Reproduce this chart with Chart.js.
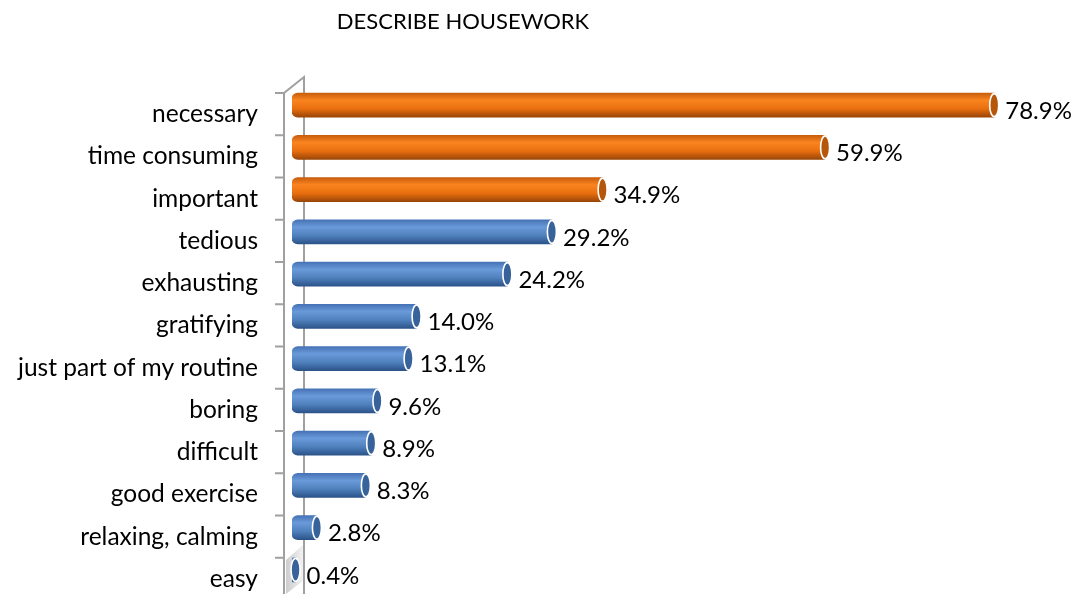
<!DOCTYPE html>
<html>
<head>
<meta charset="utf-8">
<script src="https://cdn.jsdelivr.net/npm/chart.js@4.4.1/dist/chart.umd.min.js"></script>
<style>
  html, body { margin: 0; padding: 0; background: #fff; }
  #wrap { width: 1088px; height: 594px; position: relative; }
</style>
</head>
<body>
<div id="wrap"><canvas id="myChart"></canvas></div>
<script>
// chart data
const chartTitle = 'DESCRIBE HOUSEWORK';
const categories = [
    'necessary',
    'time consuming',
    'important',
    'tedious',
    'exhausting',
    'gratifying',
    'just part of my routine',
    'boring',
    'difficult',
    'good exercise',
    'relaxing, calming',
    'easy'
];
const percentages = [78.9, 59.9, 34.9, 29.2, 24.2, 14.0, 13.1, 9.6, 8.9, 8.3, 2.8, 0.4];
// the categories drawn in orange
const topAnswers = ['necessary', 'time consuming', 'important'];

const FONT = 'Lato, "Open Sans", sans-serif';
const BAR_H = 24;
const DEPTH = 9;     // 3d shift of the front plane

const palette = {
    orange: { stops: ['#c85e0c', '#fa8420', '#e96f0e', '#9a4608'], cap: '#b5560b' },
    blue: { stops: ['#4673b6', '#6a9ad9', '#4f81bd', '#2c538a'], cap: '#38629a' }
};

function colorsFor(i) {
    return topAnswers.includes(categories[i]) ? palette.orange : palette.blue;
}

//cylinder like fill, the gradient follows the bar row
function barFill(context) {
    const chart = context.chart;
    const c = colorsFor(context.dataIndex);
    if (!chart.chartArea || !chart.scales.y) return c.stops[2];
    const y = chart.scales.y.getPixelForValue(context.dataIndex);
    const g = chart.ctx.createLinearGradient(0, y - BAR_H / 2, 0, y + BAR_H / 2);
    g.addColorStop(0, c.stops[0]);
    g.addColorStop(0.3, c.stops[1]);
    g.addColorStop(0.65, c.stops[2]);
    g.addColorStop(1, c.stops[3]);
    return g;
}

//the grey 3d wall on the left with its tick marks
const wallPlugin = {
    id: 'wall',
    beforeDatasetsDraw(chart) {
        const ctx = chart.ctx;
        const y = chart.scales.y;
        const left = chart.chartArea.left;
        const band = y.getPixelForValue(1) - y.getPixelForValue(0);
        const frontX = left - 8;
        const backX = left + 12;
        const frontTop = y.getPixelForValue(0) - band / 2 + DEPTH;
        ctx.save();

        //floor shading next to the lowest bar
        const g = ctx.createLinearGradient(frontX, 0, backX, 0);
        g.addColorStop(0, '#c8c8c8');
        g.addColorStop(1, '#f4f4f4');
        ctx.fillStyle = g;
        ctx.beginPath();
        ctx.moveTo(frontX + 2, chart.height - 34);
        ctx.lineTo(backX, chart.height - 50);
        ctx.lineTo(backX, chart.height - 14);
        ctx.lineTo(frontX + 2, chart.height);
        ctx.closePath();
        ctx.fill();

        ctx.strokeStyle = '#a0a0a0';
        ctx.lineWidth = 2;
        ctx.beginPath();
        ctx.moveTo(backX, chart.height);
        ctx.lineTo(backX, frontTop - 16);
        ctx.lineTo(frontX, frontTop);
        ctx.lineTo(frontX, chart.height);
        for (let i = 0; i <= categories.length; i++) {
            const ty = frontTop + i * band;
            ctx.moveTo(frontX - 9, ty);
            ctx.lineTo(frontX, ty);
        }
        ctx.stroke();
        ctx.restore();
    }
};

//end caps of the cylinders, value labels and the title
const capPlugin = {
    id: 'caps',
    afterDatasetsDraw(chart) {
        const ctx = chart.ctx;
        const meta = chart.getDatasetMeta(0);
        ctx.save();
        meta.data.forEach((bar, i) => {
            const c = colorsFor(i);
            ctx.beginPath();
            ctx.ellipse(bar.x, bar.y, 4.5, BAR_H / 2 - 0.5, 0, 0, Math.PI * 2);
            ctx.fillStyle = c.cap;
            ctx.fill();
            ctx.strokeStyle = '#ffffff';
            ctx.lineWidth = 1.6;
            ctx.stroke();

            ctx.fillStyle = '#000000';
            ctx.font = '24px ' + FONT;
            ctx.textBaseline = 'middle';
            ctx.textAlign = 'left';
            ctx.fillText(percentages[i].toFixed(1) + '%', bar.x + 11, bar.y + 6);
        });

        ctx.font = '22px ' + FONT;
        ctx.textAlign = 'center';
        ctx.fillText(chartTitle, 463, 22);
        ctx.restore();
    }
};

const data = {
    labels: categories,
    datasets: [{
        data: percentages,
        backgroundColor: barFill,
        borderWidth: 0,
        borderSkipped: false,
        borderRadius: { topLeft: 6, bottomLeft: 6, topRight: 0, bottomRight: 0 },
        barThickness: BAR_H
    }]
};

const config = {
    type: 'bar',
    data,
    options: {
        indexAxis: 'y',
        responsive: true,
        maintainAspectRatio: false,
        animation: false,
        layout: { padding: { top: 84, bottom: 3, left: 0, right: 84 } },
        plugins: {
            legend: { display: false },
            title: { display: false },
            tooltip: { enabled: false }
        },
        scales: {
            x: { display: false, min: 0, max: 80 },
            y: {
                grid: { display: false, drawTicks: false },
                border: { display: false },
                ticks: {
                    color: '#000000',
                    font: { family: FONT, size: 24.5 },
                    padding: 34,
                    labelOffset: DEPTH
                },
                afterFit(scale) {
                    //keep the label padding from eating the plot height
                    scale.width = 292;
                    scale.paddingTop = 0;
                    scale.paddingBottom = 0;
                }
            }
        }
    },
    plugins: [wallPlugin, capPlugin]
};

new Chart(document.getElementById('myChart'), config);
</script>
</body>
</html>
